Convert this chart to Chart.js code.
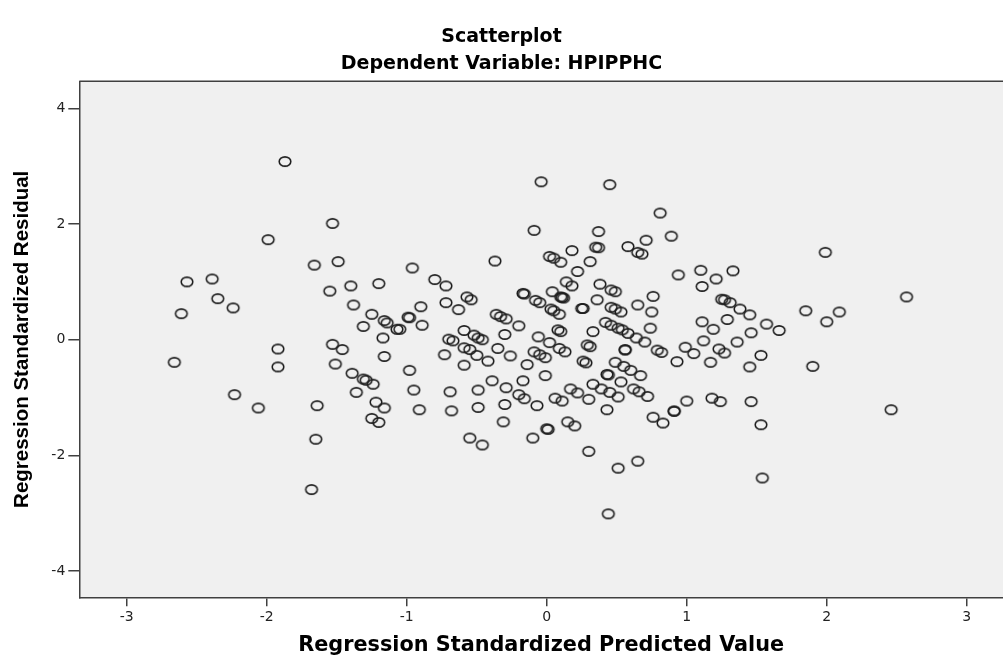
<!DOCTYPE html>
<html>
<head>
<meta charset="utf-8">
<script src="https://cdn.jsdelivr.net/npm/chart.js@4/dist/chart.umd.min.js"></script>
<style>
  html, body { margin: 0; padding: 0; background: #ffffff; overflow: hidden; }
  #wrap { width: 1003px; height: 660px; position: relative; }
</style>
</head>
<body>
<div id="wrap"><canvas id="c" width="1003" height="660"></canvas></div>
<script>
const chartTitle = 'Scatterplot';
const chartSubtitle = 'Dependent Variable: HPIPPHC';
const xAxisTitle = 'Regression Standardized Predicted Value';
const yAxisTitle = 'Regression Standardized Residual';
const xTickValues = [-3, -2, -1, 0, 1, 2, 3];
const yTickValues = [-4, -2, 0, 2, 4];

const predicted = [
 -1.87,-1.53,-1.99,-1.66,-1.49,-2.57,-2.39,-2.35,-2.24,-2.61,
 -1.55,-1.40,-1.20,-1.38,-1.25,-1.31,-1.16,-1.14,-1.07,-1.17,
 -2.66,-1.92,-1.92,-1.53,-1.46,-1.51,-1.16,-1.39,-1.31,-1.29,
 -1.24,-1.36,-1.22,-1.16,-1.25,-1.20,-2.23,-2.06,-1.64,-1.65,
 -1.68, 1.99, 2.57, 1.10, 1.21, 1.33, 1.11, 1.25, 1.27, 1.31,
  1.38, 1.45, 1.85, 2.09, 2.00, 1.57, 1.66, 1.29, 1.11, 1.19,
  1.46, 1.12, 1.36, 1.23, 1.27, 1.17, 1.53, 1.45, 1.90, 1.18,
  1.24, 1.46, 2.46, 1.53, 1.54,-0.04, 0.45, 0.81,-0.09, 0.37,
  0.89, 0.35, 0.37, 0.58, 0.71, 0.65, 0.68, 0.18, 0.02, 0.05,
  0.10, 0.31,-0.37,-0.96, 0.22, 0.94,-0.80,-0.72, 0.14, 0.18,
  0.38, 0.46, 0.49, 0.76, 0.04, 0.10, 0.12, 0.11,-0.17,-0.16,
 -0.57,-0.54,-0.72,-0.63,-0.90,-0.99,-0.98,-1.05,-0.89,-0.08,
 -0.05, 0.03, 0.05, 0.09, 0.25, 0.26, 0.36, 0.46, 0.49, 0.53,
  0.65, 0.75, 0.42, 0.46, 0.51, 0.54, 0.58, 0.64, 0.70, 0.74,
 -0.36,-0.33,-0.29,-0.20,-0.30,-0.59,-0.52,-0.49,-0.46,-0.70,
 -0.67,-0.06, 0.02, 0.08, 0.10, 0.33, 0.29, 0.31,-0.98,-0.95,
 -0.91,-0.73,-0.59,-0.55,-0.50,-0.59,-0.42,-0.35,-0.26,-0.69,
 -0.68,-0.49,-0.49,-0.39,-0.29,-0.30,-0.31,-0.55,-0.46,-0.20,
 -0.16,-0.17,-0.14,-0.09,-0.05,-0.01,-0.07,-0.01,-0.10, 0.00,
  0.01, 0.06, 0.11, 0.09, 0.13, 0.17, 0.22, 0.30, 0.15, 0.20,
  0.26, 0.28, 0.30, 0.33, 0.39, 0.45, 0.51, 0.43, 0.43, 0.44,
  0.49, 0.55, 0.60, 0.67, 0.53, 0.56, 0.56, 0.62, 0.66, 0.72,
  0.51, 0.65, 0.44, 0.79, 0.82, 0.93, 0.99, 1.05, 0.76, 0.83,
  0.91, 0.91, 1.00
];

const residual = [
  3.08, 2.01, 1.73, 1.29, 1.35, 1.00, 1.05, 0.71, 0.55, 0.45,
  0.84, 0.93, 0.97, 0.60, 0.44, 0.23, 0.33, 0.29, 0.18, 0.03,
 -0.39,-0.16,-0.47,-0.08,-0.17,-0.42,-0.29,-0.58,-0.68,-0.70,
 -0.77,-0.91,-1.08,-1.18,-1.36,-1.43,-0.95,-1.18,-1.14,-1.72,
 -2.59, 1.51, 0.74, 1.20, 1.05, 1.19, 0.92, 0.70, 0.69, 0.64,
  0.53, 0.43, 0.50, 0.48, 0.31, 0.27, 0.16, 0.35, 0.31, 0.18,
  0.12,-0.02,-0.04,-0.16,-0.23,-0.39,-0.27,-0.47,-0.46,-1.01,
 -1.07,-1.07,-1.21,-1.47,-2.39, 2.73, 2.68, 2.19, 1.89, 1.87,
  1.79, 1.60, 1.59, 1.61, 1.72, 1.51, 1.48, 1.54, 1.44, 1.41,
  1.34, 1.35, 1.36, 1.24, 1.18, 1.12, 1.04, 0.93, 1.00, 0.93,
  0.96, 0.86, 0.83, 0.75, 0.83, 0.74, 0.72, 0.73, 0.80, 0.79,
  0.74, 0.69, 0.64, 0.52, 0.57, 0.39, 0.38, 0.18, 0.25, 0.68,
  0.64, 0.53, 0.50, 0.44, 0.54, 0.54, 0.69, 0.56, 0.53, 0.48,
  0.60, 0.48, 0.30, 0.25, 0.20, 0.17, 0.11, 0.03,-0.04, 0.20,
  0.44, 0.40, 0.36, 0.24, 0.09, 0.16, 0.08, 0.03, 0.00, 0.01,
 -0.02, 0.05,-0.05, 0.17, 0.14, 0.14,-0.09,-0.12,-0.53,-0.87,
 -1.21,-0.26,-0.14,-0.17,-0.27,-0.44,-0.37,-0.15,-0.28,-0.90,
 -1.23,-0.87,-1.17,-0.71,-0.83,-1.12,-1.42,-1.70,-1.82,-0.95,
 -1.02,-0.71,-0.43,-0.21,-0.26,-0.31,-1.14,-0.62,-1.70,-1.54,
 -1.55,-1.01,-1.06,-0.15,-0.21,-0.85,-0.92,-1.03,-1.42,-1.49,
 -0.37,-0.40,-1.93,-0.77,-0.85,-0.91,-0.99,-1.21,-0.60,-0.61,
 -0.39,-0.46,-0.53,-0.62,-0.73,-0.17,-0.18,-0.85,-0.90,-0.98,
 -2.22,-2.10,-3.01,-0.18,-0.22,-0.38,-0.13,-0.24,-1.34,-1.44,
 -1.23,-1.24,-1.06
];

const points = predicted.map((x, i) => ({ x: x, y: residual[i] }));

function ellipseMarker() {
  const c = document.createElement('canvas');
  c.width = 16; c.height = 13;
  const g = c.getContext('2d');
  g.strokeStyle = '#1e1e1e';
  g.lineWidth = 1.6;
  g.beginPath();
  g.ellipse(8, 6.5, 5.8, 4.6, 0, 0, Math.PI * 2);
  g.stroke();
  return c;
}
const marker = ellipseMarker();

const framePlugin = {
  id: 'frame',
  beforeDraw(chart) {
    const { ctx, chartArea: a } = chart;
    ctx.save();
    ctx.fillStyle = '#F0F0F0';
    ctx.fillRect(a.left, a.top, chart.width - a.left, a.bottom - a.top);
    ctx.restore();
  },
  afterDraw(chart) {
    const { ctx, chartArea: a } = chart;
    ctx.save();
    ctx.strokeStyle = '#404040';
    ctx.lineWidth = 1.5;
    ctx.beginPath();
    ctx.moveTo(a.left, a.top);
    ctx.lineTo(chart.width, a.top);
    ctx.stroke();
    ctx.restore();
  }
};

new Chart(document.getElementById('c'), {
  type: 'scatter',
  data: {
    datasets: [{
      data: points,
      pointStyle: marker,
      pointRadius: 6,
      pointHoverRadius: 6,
      borderColor: '#1e1e1e',
      backgroundColor: 'rgba(0,0,0,0)'
    }]
  },
  options: {
    responsive: false,
    animation: false,
    devicePixelRatio: 1,
    events: [],
    layout: { padding: 0, autoPadding: false },
    plugins: {
      legend: { display: false },
      tooltip: { enabled: false },
      title: {
        display: true,
        text: chartTitle,
        color: '#000',
        font: { family: 'DejaVu Sans', weight: 'bold', size: 19, lineHeight: 1.2 },
        padding: { top: 26, bottom: 4 }
      },
      subtitle: {
        display: true,
        text: chartSubtitle,
        color: '#000',
        font: { family: 'DejaVu Sans', weight: 'bold', size: 19, lineHeight: 1.2 },
        padding: { top: 0, bottom: 5.7 }
      }
    },
    scales: {
      x: {
        type: 'linear',
        min: -3.339,
        max: 3.259,
        afterFit(s) { s.height = 62.7; },
        afterBuildTicks(s) { s.ticks = xTickValues.map(v => ({ value: v })); },
        ticks: {
          stepSize: 1,
          includeBounds: false,
          autoSkip: false,
          maxRotation: 0,
          padding: 3,
          color: '#222',
          font: { family: 'DejaVu Sans', size: 14 }
        },
        grid: {
          drawOnChartArea: false,
          drawTicks: true,
          tickLength: 9,
          color: '#404040',
          lineWidth: 1.5
        },
        border: { display: true, color: '#404040', width: 1.5 },
        title: {
          display: true,
          text: xAxisTitle,
          color: '#000',
          font: { family: 'DejaVu Sans', weight: 'bold', size: 20.8, lineHeight: 1.2 },
          padding: { top: 0, bottom: 2 }
        }
      },
      y: {
        type: 'linear',
        min: -4.453,
        max: 4.467,
        afterFit(s) { s.width = 79.3; },
        afterBuildTicks(s) { s.ticks = yTickValues.map(v => ({ value: v })); },
        ticks: {
          stepSize: 2,
          includeBounds: false,
          autoSkip: false,
          padding: 3,
          color: '#222',
          font: { family: 'DejaVu Sans', size: 14 }
        },
        grid: {
          drawOnChartArea: false,
          drawTicks: true,
          tickLength: 11,
          color: '#404040',
          lineWidth: 1.5
        },
        border: { display: true, color: '#404040', width: 1.5 },
        title: {
          display: true,
          text: yAxisTitle,
          color: '#000',
          font: { family: 'Liberation Sans', weight: 'bold', size: 20.5, lineHeight: 1.2 },
          padding: { top: 10, bottom: 0 }
        }
      }
    }
  },
  plugins: [framePlugin]
});
</script>
</body>
</html>
